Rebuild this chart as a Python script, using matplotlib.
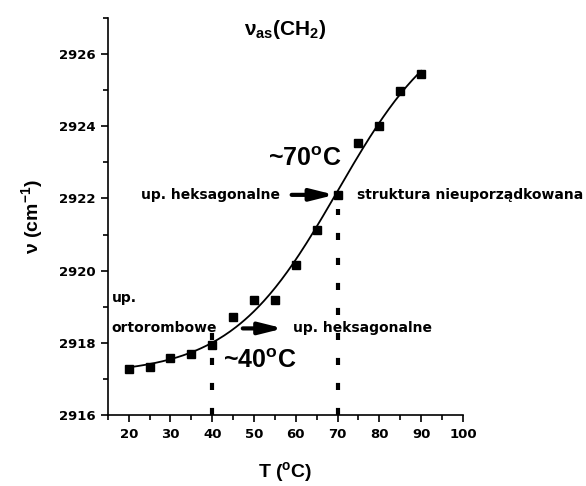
import numpy as np
import matplotlib.pyplot as plt
from matplotlib.ticker import MultipleLocator

plt.rcParams['font.family'] = ['DejaVu Sans']
plt.rcParams['font.weight'] = 'bold'
plt.rcParams['mathtext.default'] = 'regular'
BIG = ['Liberation Sans', 'DejaVu Sans']

# measured wavenumbers
temps = np.array([20, 25, 30, 35, 40, 45, 50, 55, 60, 65, 70, 75, 80, 85, 90])
nu = np.array([2917.27, 2917.32, 2917.57, 2917.68, 2917.94, 2918.72, 2919.2, 2919.2,
               2920.17, 2921.14, 2922.09, 2923.53, 2924.0, 2924.97, 2925.45])
transition_labels = ['~40$^o$C', '~70$^o$C']


def boltzmann_fit(x, y):
    # x0 and dx by grid search, plateaus by linear least squares
    best = None
    for x0 in np.linspace(50, 120, 141):
        for dx in np.linspace(3, 30, 109):
            s = 1.0 / (1.0 + np.exp((x - x0) / dx))
            A = np.column_stack([s, 1 - s])
            c, *_ = np.linalg.lstsq(A, y, rcond=None)
            err = np.sum((A @ c - y) ** 2)
            if best is None or err < best[0]:
                best = (err, x0, dx, c)
    _, x0, dx, c = best
    return lambda t: c[0] / (1 + np.exp((t - x0) / dx)) + c[1] * (1 - 1 / (1 + np.exp((t - x0) / dx)))


fig = plt.figure(figsize=(5.86, 4.86), dpi=100)
ax = fig.add_axes([0.184, 0.146, 0.606, 0.817])

fit = boltzmann_fit(temps, nu)
tt = np.linspace(temps[0], temps[-1], 200)
ax.plot(tt, fit(tt), color='black', lw=1.3, zorder=2)
ax.plot(temps, nu, 's', color='black', ms=6, zorder=3)

# dotted markers of the transitions
ax.plot([40, 40], [2916, 2918.3], color='black', lw=3, ls=(0, (1.7, 4.3)))
ax.plot([70, 70], [2916, 2921.7], color='black', lw=3, ls=(0, (1.7, 4.3)))

arrow = dict(arrowstyle='-|>,head_length=1.4,head_width=0.35', color='black',
             lw=3, shrinkA=0, shrinkB=0)
ax.annotate('', xy=(69.3, 2922.1), xytext=(59.0, 2922.1), arrowprops=arrow)
ax.annotate('', xy=(57.0, 2918.4), xytext=(47.3, 2918.4), arrowprops=arrow)

ax.text(56.2, 2922.1, 'up. heksagonalne', ha='right', va='center', fontsize=10)
ax.text(74.6, 2922.1, 'struktura nieuporządkowana', ha='left', va='center',
        fontsize=10, clip_on=False)
ax.text(15.9, 2919.25, 'up.', ha='left', va='center', fontsize=10)
ax.text(15.9, 2918.4, 'ortorombowe', ha='left', va='center', fontsize=10)
ax.text(59.3, 2918.4, 'up. heksagonalne', ha='left', va='center', fontsize=10)
ax.text(42.5, 2917.5, transition_labels[0], ha='left', va='center',
        fontsize=18, family=BIG)
ax.text(53.3, 2923.1, transition_labels[1], ha='left', va='center',
        fontsize=18, family=BIG)

ax.set_xlim(15, 100)
ax.set_ylim(2916, 2927)
ax.set_xticks(range(20, 101, 10))
ax.xaxis.set_minor_locator(MultipleLocator(5))
ax.yaxis.set_major_locator(MultipleLocator(2))
ax.yaxis.set_minor_locator(MultipleLocator(1))
ax.tick_params(which='both', direction='out', width=1.2, labelsize=9.5)
ax.tick_params(which='major', length=5, pad=4)
ax.tick_params(which='minor', length=3.5)
for s in ['top', 'right']:
    ax.spines[s].set_visible(False)
for s in ['left', 'bottom']:
    ax.spines[s].set_linewidth(1.2)

ax.set_xlabel('T ($^o$C)', fontsize=14, family=BIG, fontweight='bold', labelpad=14)
ax.set_ylabel('ν (cm$^{-1}$)', fontsize=14, family=BIG, fontweight='bold', labelpad=10)
ax.set_title('ν$_{as}$(CH$_2$)', fontsize=15, family=BIG, fontweight='bold', y=0.935)

fig.savefig('out.png', dpi=100)
